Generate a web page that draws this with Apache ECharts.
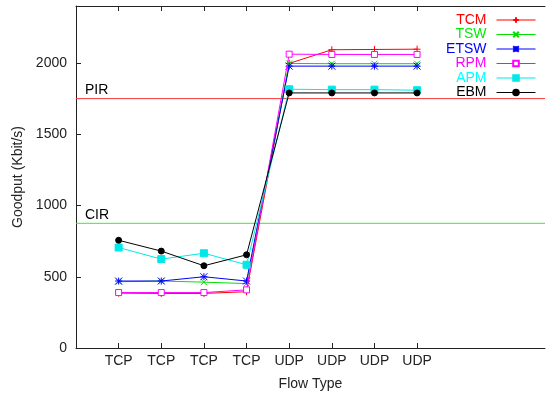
<!DOCTYPE html>
<html>
<head>
<meta charset="utf-8">
<script src="https://cdn.jsdelivr.net/npm/echarts@6/dist/echarts.min.js"></script>
<style>html,body{margin:0;padding:0;background:#fff}#c{width:548px;height:396px}</style>
</head>
<body>
<div id="c"></div>
<script>
const tickLabels = ['TCP','TCP','TCP','TCP','UDP','UDP','UDP','UDP'];
const seriesNames = ['TCM','TSW','ETSW','RPM','APM','EBM'];
const TCM  = [385, 383, 383, 395, 1997, 2093, 2095, 2097];
const TSW  = [465, 470, 462, 452, 1997, 1995, 1995, 1995];
const ETSW = [470, 470, 500, 470, 1978, 1978, 1978, 1978];
const RPM  = [389, 389, 389, 408, 2062, 2060, 2060, 2060];
const APM  = [705, 624, 665, 584, 1816, 1813, 1813, 1809];
const EBM  = [756, 680, 577, 654, 1790, 1790, 1790, 1790];
const refNames = ['PIR', 'CIR'];
const refValues = [1750, 875];

const values = [TCM, TSW, ETSW, RPM, APM, EBM];
const colors = ['#ff0000','#00e000','#0000ff','#ff00ff','#00e8e8','#000000'];
const textColors = ['#ff0000','#00ee00','#0000ff','#ff00ff','#00ffff','#000000'];
const symbols = [
  'path://M0,5L10,5M5,0L5,10',
  'path://M0,0L10,10M0,10L10,0',
  'path://M0,5L10,5M5,0L5,10M0,0L10,10M0,10L10,0',
  'rect','rect','circle'
];
const symSizes = [7,6,7,6,7,6];
const fills = ['#ff0000','#00e000','#0000ff','#ffffff','#00e8e8','#000000'];
const refColors = ['#ff3333', '#33ee33'];

const cats = [''].concat(tickLabels, ['', '', '']);
const lastIdx = cats.length - 1;
const font = 'Liberation Sans, Arial, sans-serif';

const series = seriesNames.map((n, k) => ({
  name: n, type: 'line', xAxisIndex: 0,
  color: colors[k],
  data: values[k].map((v, i) => [i + 1, v]),
  symbol: symbols[k], symbolSize: symSizes[k],
  lineStyle: {color: colors[k], width: 1},
  itemStyle: {color: fills[k], borderColor: colors[k], borderWidth: 1},
  z: 2 + k
}));
refNames.forEach((n, k) => {
  series.push({
    type: 'line', silent: true, z: 1, symbol: 'circle', symbolSize: 0.01, showSymbol: true,
    lineStyle: {color: refColors[k], width: 1},
    itemStyle: {color: refColors[k], opacity: 0},
    data: [
      {value: [0, refValues[k]],
       label: {show: true, position: 'right', offset: [4, -8], formatter: n,
               fontFamily: font, fontSize: 14, color: '#000', opacity: 1}},
      {value: [lastIdx, refValues[k]]}
    ]
  });
});

const chart = echarts.init(document.getElementById('c'), null, {renderer: 'canvas'});
chart.setOption({
  animation: false,
  grid: {left: 76, top: 6, bottom: 46, right: -5, containLabel: false},
  legend: {
    orient: 'vertical', right: 7, top: 8, align: 'right',
    itemWidth: 39, itemHeight: 7, itemGap: 0.5,
    lineStyle: {width: 1},
    textStyle: {fontFamily: font, fontSize: 14, lineHeight: 14, padding: [0, 5, 0, 0]},
    data: seriesNames.map((n, k) => ({name: n, textStyle: {color: textColors[k]}}))
  },
  xAxis: [{
    type: 'category', data: cats, boundaryGap: false, position: 'bottom',
    name: 'Flow Type', nameLocation: 'middle', nameGap: 29,
    nameTextStyle: {fontFamily: font, fontSize: 14, color: '#222'},
    axisLine: {lineStyle: {color: '#222', width: 1}},
    axisTick: {inside: true, length: 5, interval: (i) => i >= 1 && i <= 8, lineStyle: {color: '#222'}},
    axisLabel: {interval: 0, fontFamily: font, fontSize: 14, color: '#222', margin: 6},
    splitLine: {show: false}
  }, {
    type: 'category', data: cats, boundaryGap: false, position: 'top',
    axisLine: {lineStyle: {color: '#222', width: 1}},
    axisTick: {inside: true, length: 5, interval: (i) => i >= 1 && i <= 8, lineStyle: {color: '#222'}},
    axisLabel: {show: false},
    splitLine: {show: false}
  }],
  yAxis: {
    type: 'value', min: 0, max: 2400, interval: 500,
    name: 'Goodput (Kbit/s)', nameLocation: 'middle', nameGap: 51, nameRotate: 90,
    nameTextStyle: {fontFamily: font, fontSize: 14, color: '#222'},
    axisLine: {show: true, lineStyle: {color: '#222', width: 1}},
    axisTick: {show: true, inside: true, length: 5, lineStyle: {color: '#222'}},
    axisLabel: {fontFamily: font, fontSize: 14, color: '#222', margin: 9, showMaxLabel: false, formatter: v => String(v)},
    splitLine: {show: false}
  },
  series: series
});
</script>
</body>
</html>
